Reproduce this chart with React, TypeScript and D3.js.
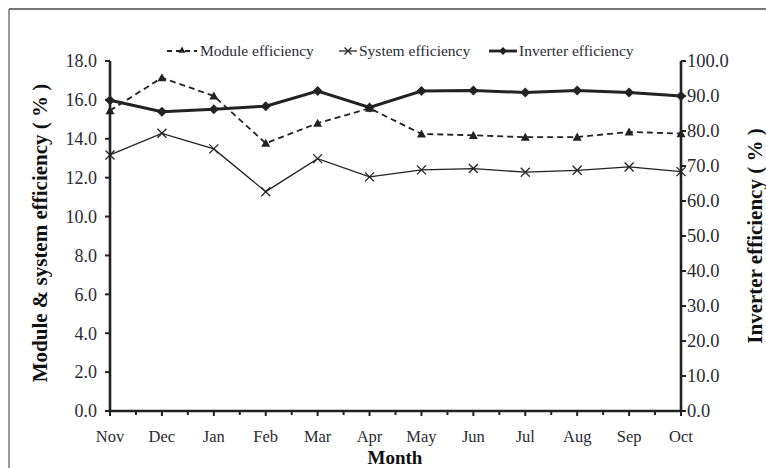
import React from "react";
import * as d3 from "d3";

const months = ["Nov", "Dec", "Jan", "Feb", "Mar", "Apr", "May", "Jun", "Jul", "Aug", "Sep", "Oct"];
const moduleEff = [15.45, 17.14, 16.2, 13.77, 14.8, 15.57, 14.25, 14.18, 14.08, 14.09, 14.35, 14.27];
const systemEff = [13.17, 14.28, 13.48, 11.28, 12.98, 12.04, 12.4, 12.47, 12.28, 12.38, 12.55, 12.31];
const inverterEff = [88.8, 85.5, 86.2, 87.1, 91.4, 86.7, 91.4, 91.6, 91.0, 91.6, 91.0, 90.0];
const leftTicks = [0, 2, 4, 6, 8, 10, 12, 14, 16, 18];
const rightTicks = [0, 10, 20, 30, 40, 50, 60, 70, 80, 90, 100];

const W = 766, H = 468;
const L = 110, R = 681, T = 61, B = 411;
const FONT = "'Liberation Serif', 'Times New Roman', serif";
const TXT = "#2a2a33";

export default function App() {
  const x = d3.scalePoint<string>().domain(months).range([L, R]);
  const yL = d3.scaleLinear().domain([0, 18]).range([B, T]);
  const yR = d3.scaleLinear().domain([0, 100]).range([B, T]);
  const step = x.step();

  const lineL = d3.line<number>().x((_, i) => x(months[i])!).y((d) => yL(d));
  const lineR = d3.line<number>().x((_, i) => x(months[i])!).y((d) => yR(d));

  const tri = (cx: number, cy: number, s = 4.5) =>
    `M${cx},${cy - s} L${cx + s},${cy + s * 0.8} L${cx - s},${cy + s * 0.8} Z`;
  const dia = (cx: number, cy: number, s = 5) =>
    `M${cx},${cy - s} L${cx + s},${cy} L${cx},${cy + s} L${cx - s},${cy} Z`;
  const cross = (cx: number, cy: number, s = 4.5) =>
    `M${cx - s},${cy - s} L${cx + s},${cy + s} M${cx - s},${cy + s} L${cx + s},${cy - s}`;

  const minor: number[] = [];
  for (let i = 0; i < months.length - 1; i++) minor.push(x(months[i])! + step / 2);

  return (
    <svg width={W} height={H} style={{ position: "absolute", left: 0, top: 0, background: "#fff" }}>
      {/* frame */}
      <line x1={9} y1={9} x2={W} y2={9} stroke="#777" strokeWidth={2} />
      <line x1={9} y1={9} x2={9} y2={H} stroke="#555" strokeWidth={1.2} />

      {/* series: system */}
      <path d={lineL(systemEff)!} fill="none" stroke="#222" strokeWidth={1.3} />
      {systemEff.map((v, i) => (
        <path key={"s" + i} d={cross(x(months[i])!, yL(v))} stroke="#222" strokeWidth={1.3} fill="none" />
      ))}
      {/* module */}
      <path d={lineL(moduleEff)!} fill="none" stroke="#222" strokeWidth={1.8} strokeDasharray="6,4" />
      {moduleEff.map((v, i) => (
        <path key={"m" + i} d={tri(x(months[i])!, yL(v))} fill="#222" />
      ))}
      {/* inverter */}
      <path d={lineR(inverterEff)!} fill="none" stroke="#222" strokeWidth={3} />
      {inverterEff.map((v, i) => (
        <path key={"i" + i} d={dia(x(months[i])!, yR(v))} fill="#222" />
      ))}

      {/* axes */}
      <g stroke="#222">
        <line x1={L} y1={T} x2={L} y2={B} strokeWidth={2.6} />
        <line x1={R} y1={T} x2={R} y2={B} strokeWidth={2.6} />
        <line x1={L} y1={B} x2={R} y2={B} strokeWidth={2.6} />
        {leftTicks.map((t) => (
          <line key={"lt" + t} x1={L - 5} x2={L} y1={yL(t)} y2={yL(t)} strokeWidth={2} />
        ))}
        {rightTicks.map((t) => (
          <line key={"rt" + t} x1={R} x2={R + 5} y1={yR(t)} y2={yR(t)} strokeWidth={2} />
        ))}
        {months.map((m) => (
          <line key={"xt" + m} x1={x(m)!} x2={x(m)!} y1={B} y2={B + 5} strokeWidth={2} />
        ))}
        {minor.map((p, i) => (
          <line key={"xm" + i} x1={p} x2={p} y1={B} y2={B + 4} strokeWidth={2} />
        ))}
      </g>

      {/* tick labels */}
      <g fontFamily={FONT} fontSize={18} fill={TXT}>
        {leftTicks.map((t) => (
          <text key={"ll" + t} x={L - 13} y={yL(t)} dy="0.35em" textAnchor="end">
            {t.toFixed(1)}
          </text>
        ))}
        {rightTicks.map((t) => (
          <text key={"rl" + t} x={R + 6} y={yR(t)} dy="0.35em" textAnchor="start" fontSize={18.5}>
            {t.toFixed(1)}
          </text>
        ))}
        {months.map((m) => (
          <text key={"xl" + m} x={x(m)!} y={442} textAnchor="middle" fontSize={16.5}>
            {m}
          </text>
        ))}
      </g>

      {/* axis titles */}
      <text x={395} y={464} textAnchor="middle" fontFamily={FONT} fontSize={19} fontWeight="bold" fill="#111">
        Month
      </text>
      <text
        transform={`translate(47,${233}) rotate(-90)`}
        textAnchor="middle"
        fontFamily={FONT}
        fontSize={21}
        fontWeight="bold"
        fill="#111"
      >
        Module &amp; system efficiency ( % )
      </text>
      <text
        transform={`translate(762,${236}) rotate(-90)`}
        textAnchor="middle"
        fontFamily={FONT}
        fontSize={21}
        fontWeight="bold"
        fill="#111"
      >
        Inverter efficiency ( % )
      </text>

      {/* legend */}
      <g fontFamily={FONT} fontSize={15.5} fill={TXT}>
        <line x1={167} x2={197} y1={51} y2={51} stroke="#222" strokeWidth={1.8} strokeDasharray="5,4" />
        <path d={tri(182, 50, 3.5)} fill="#222" />
        <text x={200} y={51} dy="0.33em">Module efficiency</text>

        <line x1={339} x2={357} y1={51} y2={51} stroke="#222" strokeWidth={1.3} />
        <path d={cross(348, 51, 3.5)} stroke="#222" strokeWidth={1.3} fill="none" />
        <text x={359} y={51} dy="0.33em">System efficiency</text>

        <line x1={489} x2={517} y1={51} y2={51} stroke="#222" strokeWidth={2.8} />
        <path d={dia(503, 51, 4)} fill="#222" />
        <text x={519} y={51} dy="0.33em">Inverter efficiency</text>
      </g>
    </svg>
  );
}
